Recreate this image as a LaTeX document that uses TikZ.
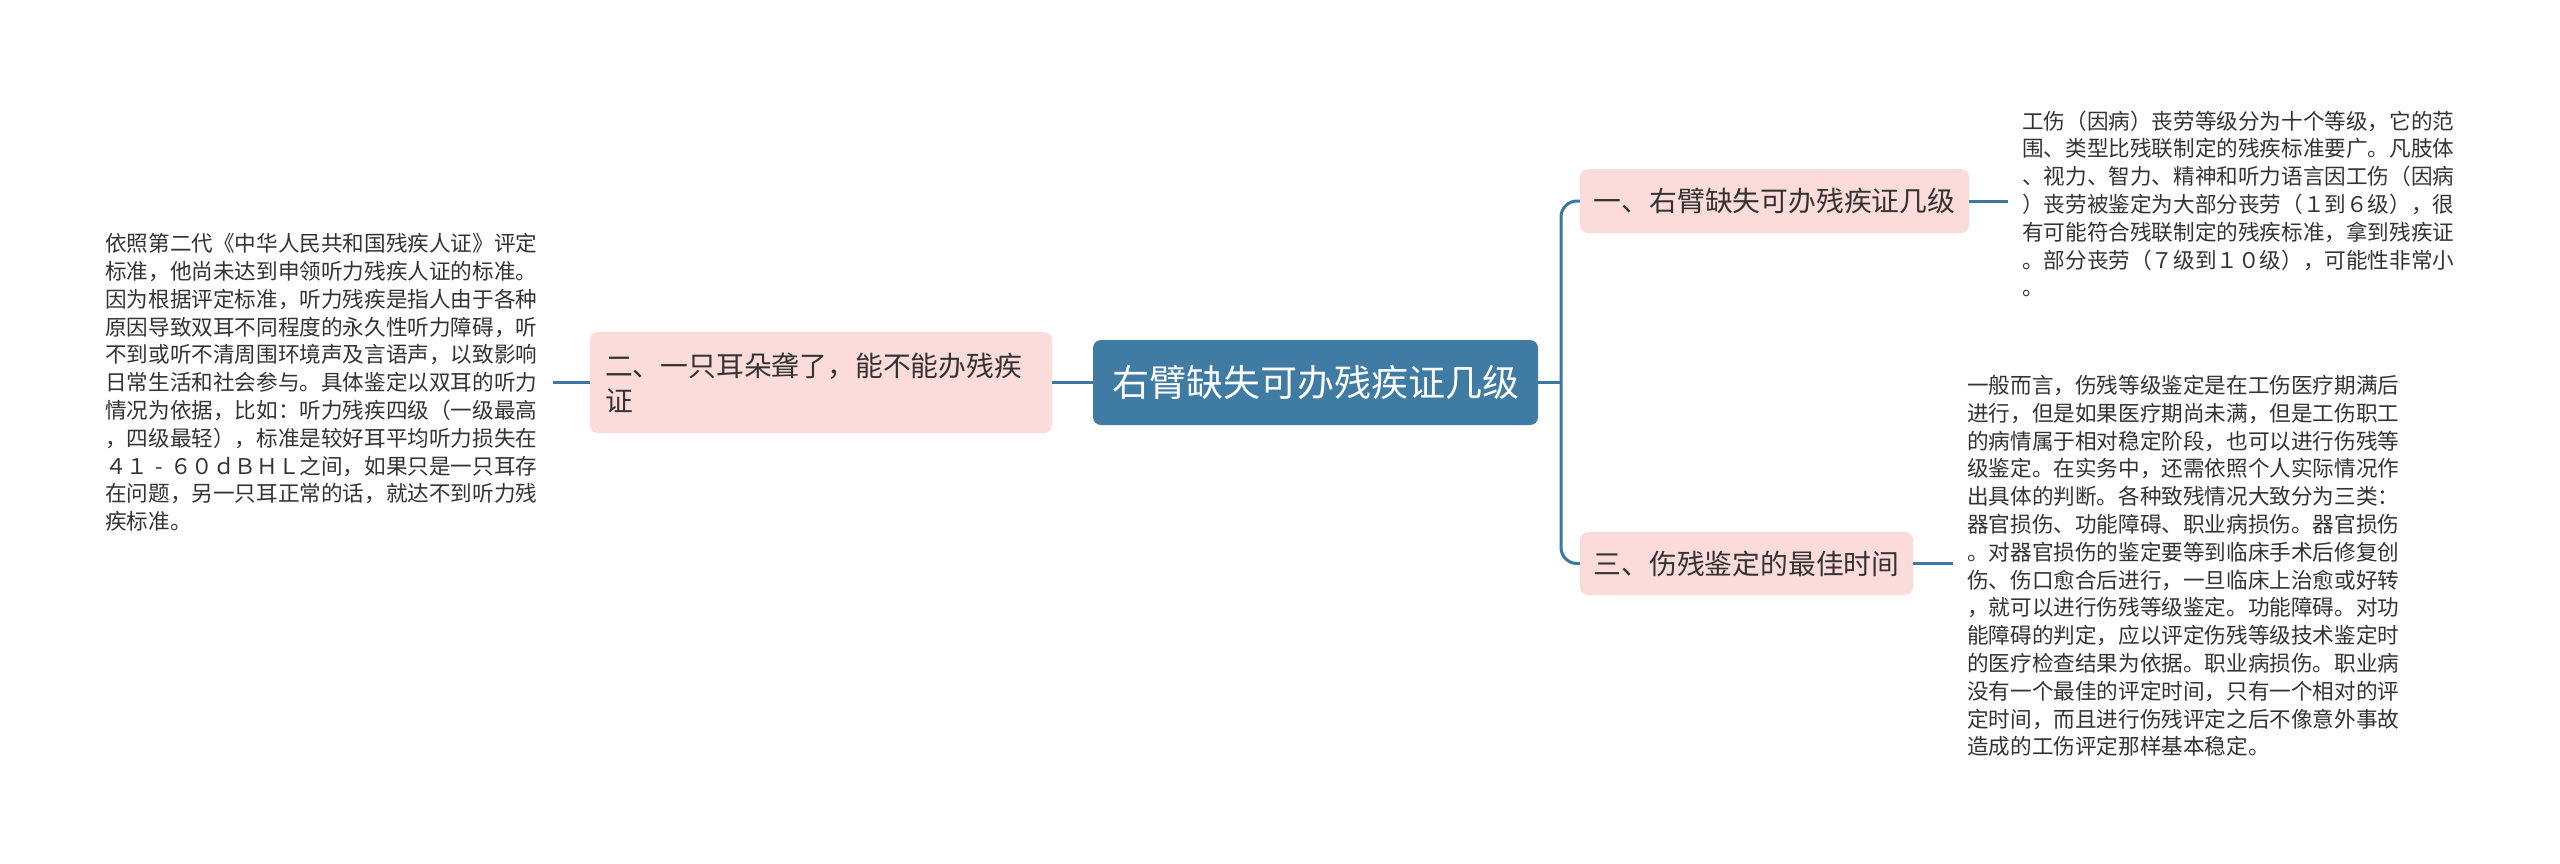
\documentclass[tikz,border=0pt]{standalone}
\usepackage{fontspec}
\newfontfamily\cjk{Noto Sans CJK SC}
\definecolor{mainblue}{HTML}{3F7BA3}
\definecolor{linkblue}{HTML}{3B77A0}
\definecolor{pinkbox}{HTML}{FBDCDB}
\definecolor{txt}{HTML}{333333}
\tikzset{
  conn/.style={draw=linkblue, line width=3pt},
  rootbox/.style={fill=mainblue, rounded corners=8pt, text=white, inner sep=0pt,
    font=\cjk\fontsize{37}{44}\selectfont},
  subbox/.style={fill=pinkbox, rounded corners=8pt, text=txt, inner sep=0pt,
    font=\cjk\fontsize{27.8}{35}\selectfont},
  note/.style={text=txt, inner sep=0pt, align=left, anchor=west,
    font=\cjk\fontsize{21.6}{27.8}\selectfont}
}
\begin{document}
\begin{tikzpicture}[x=1pt, y=-1pt]
\useasboundingbox (0,0) rectangle (2560,863);
\fill[white] (0,0) rectangle (2560,863);

% root
\node[rootbox, minimum width=445pt, minimum height=85pt] (root) at (1315.5,382.5) {右臂缺失可办残疾证几级};

% branches
\node[subbox, minimum width=389pt, minimum height=64pt] (b1) at (1774.5,201) {一、右臂缺失可办残疾证几级};
\node[subbox, minimum width=333pt, minimum height=63pt] (b3) at (1746.5,563.5) {三、伤残鉴定的最佳时间};
\node[subbox, minimum width=462pt, minimum height=101pt, text width=432pt, align=left] (b2) at (821,382.5) {二、一只耳朵聋了，能不能办残疾\\证};

% notes
\node[note] (n2) at (105,382.5) {依照第二代《中华人民共和国残疾人证》评定\\标准，他尚未达到申领听力残疾人证的标准。\\因为根据评定标准，听力残疾是指人由于各种\\原因导致双耳不同程度的永久性听力障碍，听\\不到或听不清周围环境声及言语声，以致影响\\日常生活和社会参与。具体鉴定以双耳的听力\\情况为依据，比如：听力残疾四级（一级最高\\，四级最轻），标准是较好耳平均听力损失在\\４１\makebox[21.6pt]{-}６０ｄＢＨＬ之间，如果只是一只耳存\\在问题，另一只耳正常的话，就达不到听力残\\疾标准。};

\node[note] (n1) at (2022,204) {工伤（因病）丧劳等级分为十个等级，它的范\\围、类型比残联制定的残疾标准要广。凡肢体\\、视力、智力、精神和听力语言因工伤（因病\\）丧劳被鉴定为大部分丧劳（１到６级），很\\有可能符合残联制定的残疾标准，拿到残疾证\\。部分丧劳（７级到１０级），可能性非常小\\。};

\node[note] (n3) at (1967,566) {一般而言，伤残等级鉴定是在工伤医疗期满后\\进行，但是如果医疗期尚未满，但是工伤职工\\的病情属于相对稳定阶段，也可以进行伤残等\\级鉴定。在实务中，还需依照个人实际情况作\\出具体的判断。各种致残情况大致分为三类：\\器官损伤、功能障碍、职业病损伤。器官损伤\\。对器官损伤的鉴定要等到临床手术后修复创\\伤、伤口愈合后进行，一旦临床上治愈或好转\\，就可以进行伤残等级鉴定。功能障碍。对功\\能障碍的判定，应以评定伤残等级技术鉴定时\\的医疗检查结果为依据。职业病损伤。职业病\\没有一个最佳的评定时间，只有一个相对的评\\定时间，而且进行伤残评定之后不像意外事故\\造成的工伤评定那样基本稳定。};

% connector end points
\coordinate (jx) at (1561,382.5);
\coordinate (e2) at (553,382.5);
\coordinate (e1) at (2008,201);
\coordinate (e3) at (1953,563.5);

% connectors
\draw[conn] (root.west) -- (b2.west -| b2.east);
\draw[conn] (b2.west) -- (e2);
\draw[conn] (root.east) -- (jx);
\draw[conn, rounded corners=16pt] (b1.west) -| (jx) |- (b3.west);
\draw[conn] (b1.east) -- (e1);
\draw[conn] (b3.east) -- (e3);
\end{tikzpicture}
\end{document}
